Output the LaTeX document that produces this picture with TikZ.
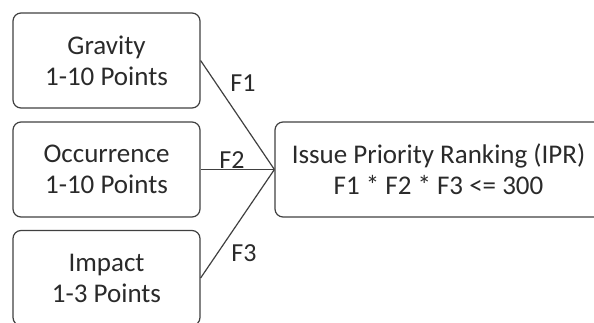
\documentclass[tikz,border=0pt]{standalone}
\usepackage{fontspec}
\setmainfont{Carlito}
\definecolor{ln}{HTML}{404040}
\definecolor{tx}{HTML}{2A2A2A}
\begin{document}
\begin{tikzpicture}[x=1bp,y=1bp,
  box/.style={draw=ln,line width=1.2bp,rounded corners=8bp,text=tx,align=center,inner sep=0pt,
    font=\fontsize{27bp}{31bp}\selectfont},
  conn/.style={draw=ln,line width=1.2bp},
  lbl/.style={text=tx,inner sep=0pt,font=\fontsize{26bp}{31bp}\selectfont}]
\clip (0,0) rectangle (594,322);
\useasboundingbox (0,0) rectangle (594,322);
\node[box,minimum width=187bp,minimum height=95bp] (g) at (106.5,261.5) {Gravity\\1-10 Points};
\node[box,minimum width=187bp,minimum height=95bp] (o) at (106.5,152.5) {Occurrence\\1-10 Points};
\node[box,minimum width=187bp,minimum height=95bp] (i) at (106.5,44) {Impact\\1-3 Points};
\node[box,minimum width=327bp,minimum height=95bp] (r) at (438.5,152.5) {Issue Priority Ranking (IPR)\\F1 * F2 * F3 <= 300};
\draw[conn] (g.east) -- (r.west);
\draw[conn] (o.east) -- (r.west);
\draw[conn] (i.east) -- (r.west);
\node[lbl] (f1) at (243,239) {F1};
\node[lbl] (f2) at (232,162) {F2};
\node[lbl] (f3) at (244,69) {F3};
\end{tikzpicture}
\end{document}
